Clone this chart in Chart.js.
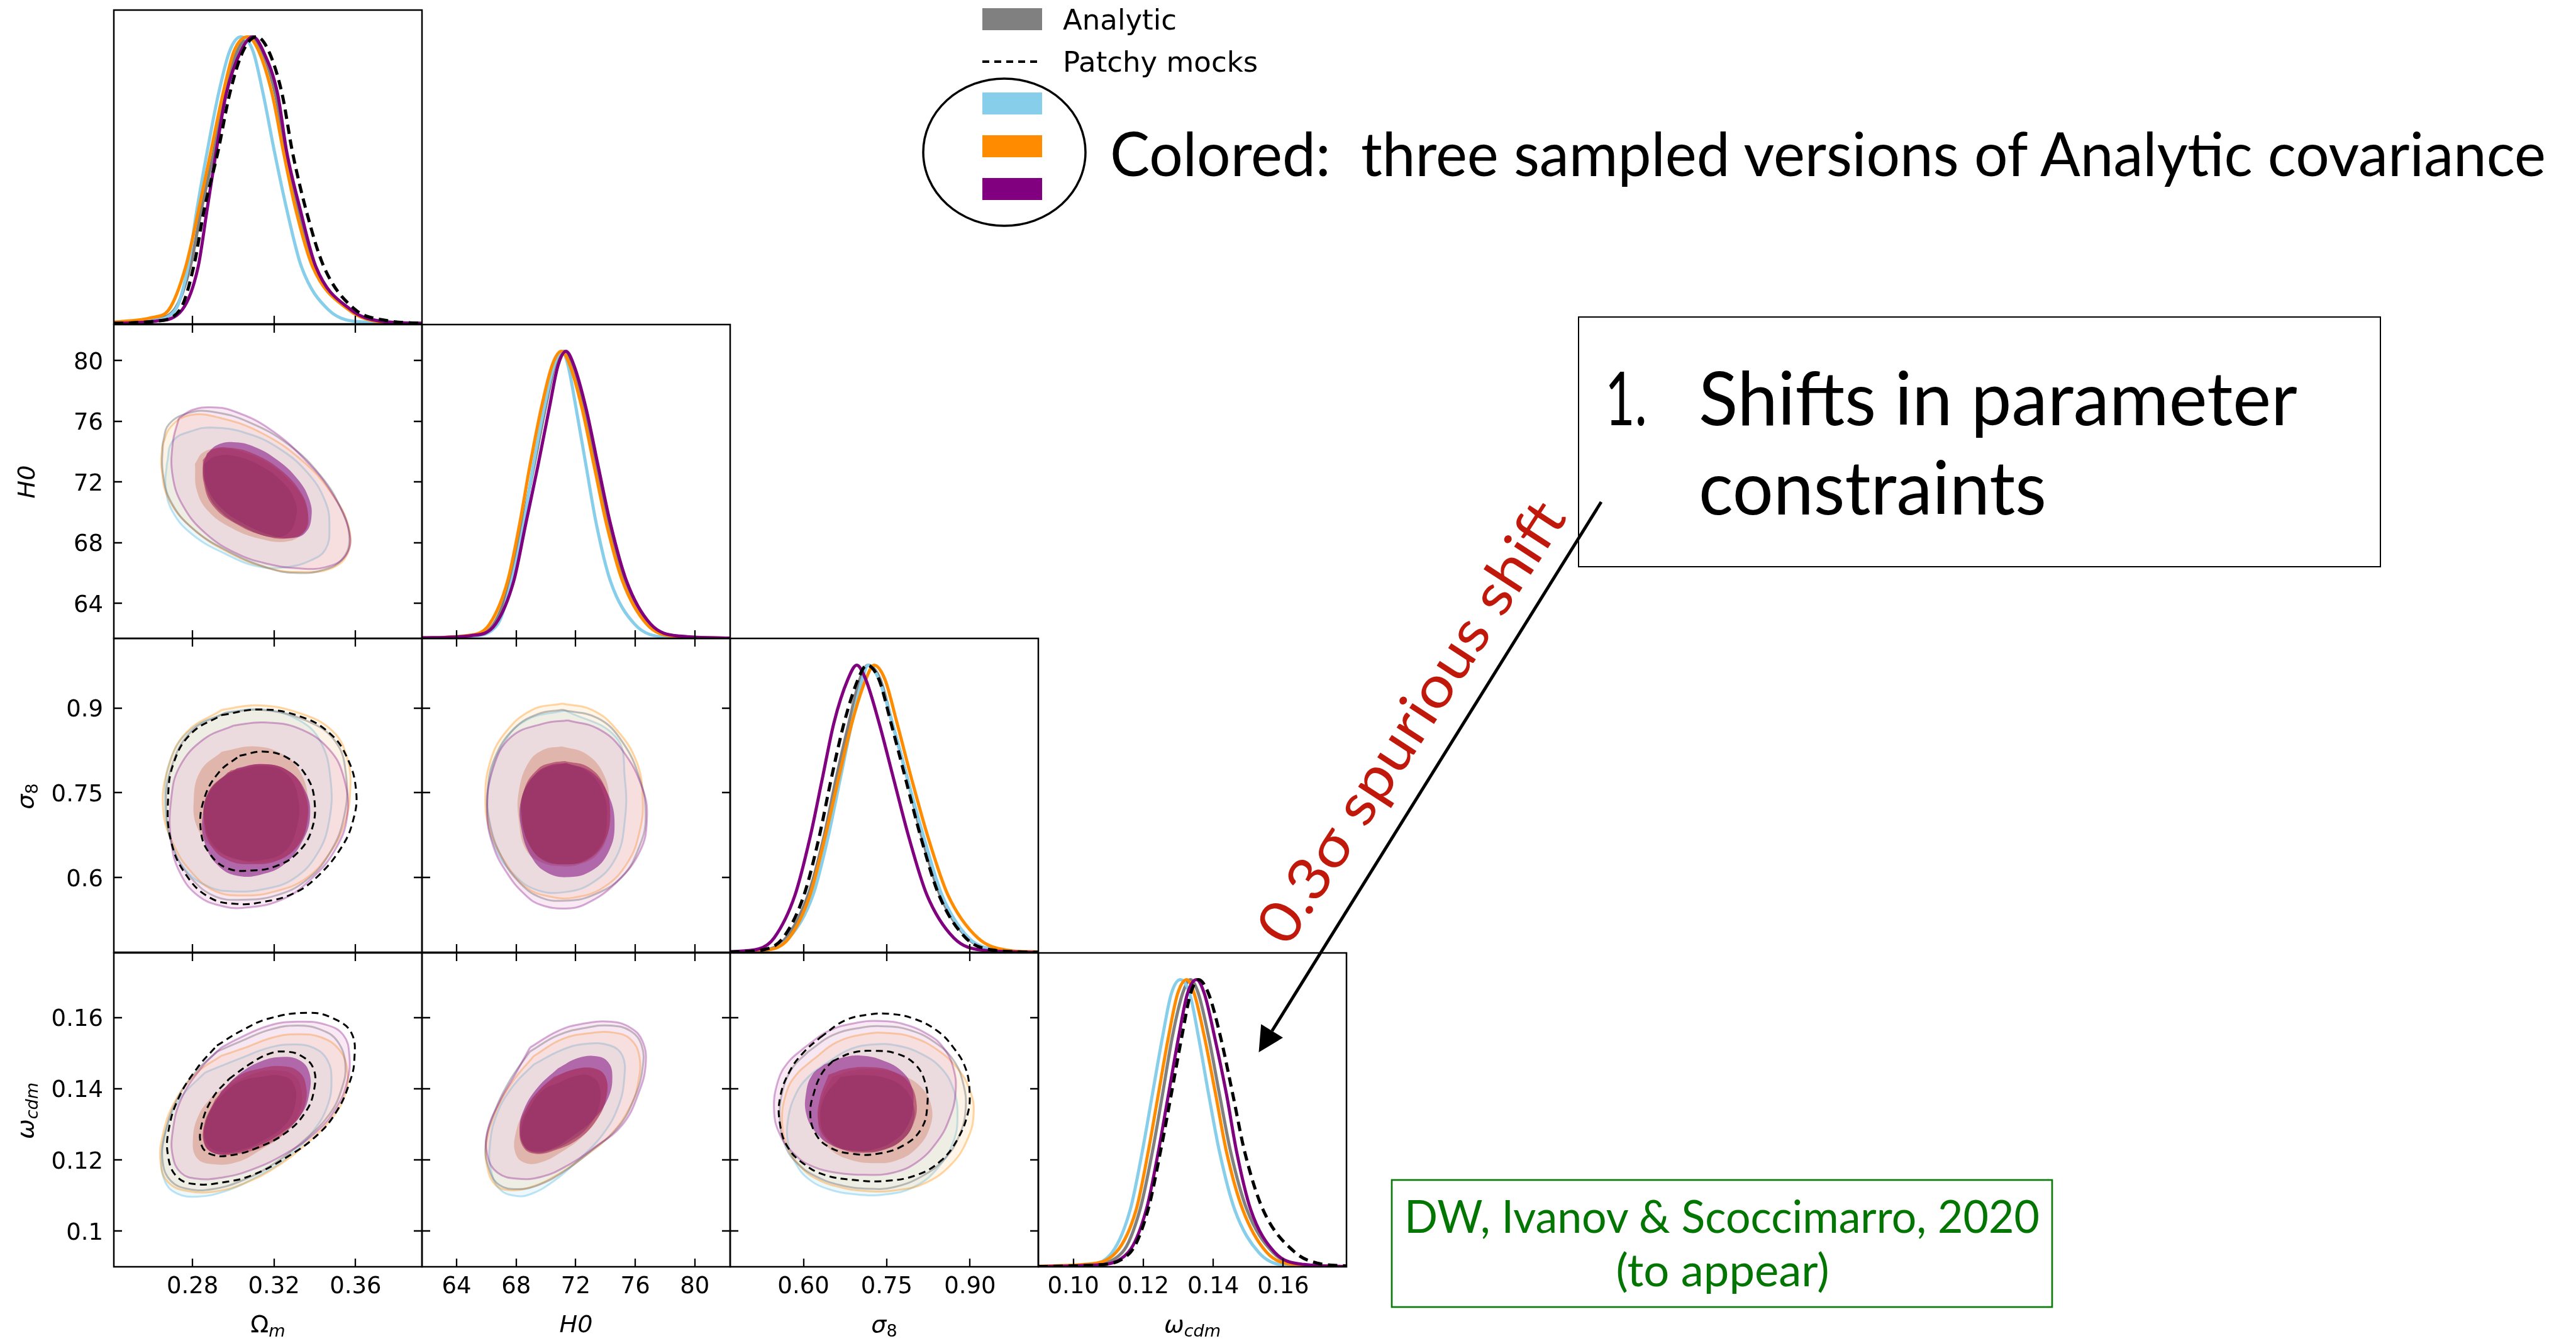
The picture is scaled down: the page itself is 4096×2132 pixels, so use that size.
<!DOCTYPE html>
<html>
<head>
<meta charset="utf-8">
<title>Analytic vs Patchy covariance triangle plot</title>
<script src="https://cdn.jsdelivr.net/npm/chart.js@4.4.1/dist/chart.umd.min.js"></script>
<style>
  html, body { margin: 0; padding: 0; background: #fff; }
  body { position: relative; width: 4096px; height: 2132px; overflow: hidden; }
  canvas { position: absolute; }
  #notes { position: absolute; left: 0; top: 0; z-index: 5; }
</style>
</head>
<body>
<svg id="notes" width="4096" height="2132" xmlns="http://www.w3.org/2000/svg">
  <!-- legend -->
  <g font-family="DejaVu Sans" font-size="45" fill="#000">
    <rect x="1562" y="13" width="95" height="35" fill="#808080"/>
    <text x="1690" y="47">Analytic</text>
    <line x1="1562" y1="98" x2="1657" y2="98" stroke="#000" stroke-width="4" stroke-dasharray="11 8"/>
    <text x="1690" y="114">Patchy mocks</text>
    <rect x="1562" y="147" width="95" height="35" fill="#87ceeb"/>
    <rect x="1562" y="215" width="95" height="35" fill="#ff8c00"/>
    <rect x="1562" y="283" width="95" height="35" fill="#800080"/>
  </g>
  <ellipse cx="1597" cy="242" rx="129" ry="117" fill="none" stroke="#000" stroke-width="3.5"/>
  <text x="1765" y="280" font-family="Lato, 'Open Sans', sans-serif" font-size="97" xml:space="preserve" style="white-space:pre"
        textLength="2283" lengthAdjust="spacingAndGlyphs">Colored:  three sampled versions of Analytic covariance</text>

  <!-- box 1 -->
  <rect x="2510" y="504" width="1275" height="397" fill="none" stroke="#000" stroke-width="2"/>
  <g font-family="Lato, 'Open Sans', sans-serif" font-size="119" fill="#000">
    <text x="2552" y="676" textLength="67" lengthAdjust="spacingAndGlyphs">1.</text>
    <text x="2701" y="676" textLength="952" lengthAdjust="spacingAndGlyphs">Shifts in parameter</text>
    <text x="2701" y="818" textLength="553" lengthAdjust="spacingAndGlyphs">constraints</text>
  </g>

  <!-- arrow and shift note -->
  <line x1="2546" y1="798" x2="2022.6" y2="1639" stroke="#000" stroke-width="5"/>
  <polygon points="2001.5,1673 2040,1649.8 2005.2,1628.2" fill="#000"/>
  <text transform="translate(2242,1147) rotate(-57)" y="34" text-anchor="middle" font-family="Lato, 'Open Sans', sans-serif"
        font-size="92" fill="#c0180a" textLength="817" lengthAdjust="spacingAndGlyphs">0.3σ spurious shift</text>

  <!-- reference box -->
  <rect x="2213" y="1876" width="1050" height="202" fill="none" stroke="#0a7a0a" stroke-width="2.7"/>
  <g font-family="Lato, 'Open Sans', sans-serif" font-size="72" fill="#037503">
    <text x="2233" y="1960" textLength="1010" lengthAdjust="spacingAndGlyphs">DW, Ivanov &amp; Scoccimarro, 2020</text>
    <text x="2739" y="2045" text-anchor="middle" textLength="339" lengthAdjust="spacingAndGlyphs">(to appear)</text>
  </g>

  <!-- axis labels -->
  <g font-family="DejaVu Sans" font-size="38" fill="#000" text-anchor="middle">
    <text x="426" y="2118">Ω<tspan font-style="italic" font-size="27" dy="7">m</tspan></text>
    <text x="916" y="2118" font-style="italic">H0</text>
    <text x="1406" y="2118"><tspan font-style="italic">σ</tspan><tspan font-size="27" dy="7">8</tspan></text>
    <text x="1896" y="2118"><tspan font-style="italic">ω</tspan><tspan font-style="italic" font-size="27" dy="7">cdm</tspan></text>
    <text transform="translate(55,766) rotate(-90)" font-style="italic">H0</text>
    <text transform="translate(53,1266) rotate(-90)"><tspan font-style="italic">σ</tspan><tspan font-size="27" dy="7">8</tspan></text>
    <text transform="translate(53,1766) rotate(-90)"><tspan font-style="italic">ω</tspan><tspan font-style="italic" font-size="27" dy="7">cdm</tspan></text>
  </g>
</svg>

<script>
// ---- axes ----
const omRange = [0.2414, 0.3926];
const h0Range = [61.68, 82.37];
const s8Range = [0.468, 1.023];
const wcRange = [0.0900, 0.1781];
const peakRange = [0, 1.093];

const omTicks = [0.28, 0.32, 0.36];
const omTickText = ['0.28', '0.32', '0.36'];
const h0Ticks = [64, 68, 72, 76, 80];
const h0TickText = ['64', '68', '72', '76', '80'];
const s8Ticks = [0.60, 0.75, 0.90];
const s8TickText = ['0.60', '0.75', '0.90'];
const s8TickTextY = ['0.6', '0.75', '0.9'];
const wcTicks = [0.10, 0.12, 0.14, 0.16];
const wcTickText = ['0.10', '0.12', '0.14', '0.16'];
const wcTickTextY = ['0.1', '0.12', '0.14', '0.16'];

// ---- 1D marginals [value, normalised density] ----
const omGray = [[0.2414,0.004],[0.2600,0.015],[0.2712,0.05],[0.2789,0.2],[0.2844,0.4],[0.2905,0.6],[0.2960,0.8],[0.3020,0.95],[0.3086,1],[0.3141,0.95],[0.3207,0.8],[0.3257,0.6],[0.3317,0.4],[0.3400,0.2],[0.3570,0.05],[0.3700,0.012],[0.3926,0.002]];
const omBlue = [[0.2414,0.003],[0.2600,0.012],[0.2717,0.05],[0.2778,0.2],[0.2822,0.4],[0.2872,0.6],[0.2927,0.8],[0.2982,0.95],[0.3037,1],[0.3097,0.95],[0.3147,0.8],[0.3202,0.6],[0.3262,0.4],[0.3334,0.2],[0.3466,0.05],[0.3653,0.006],[0.3926,0.001]];
const omOrange = [[0.2414,0.006],[0.2600,0.022],[0.2684,0.05],[0.2767,0.2],[0.2831,0.4],[0.2890,0.6],[0.2949,0.8],[0.3004,0.95],[0.3070,1],[0.3125,0.95],[0.3191,0.8],[0.3246,0.6],[0.3306,0.4],[0.3389,0.2],[0.3565,0.05],[0.3708,0.008],[0.3926,0.001]];
const omPurple = [[0.2414,0.002],[0.2620,0.01],[0.2750,0.05],[0.2828,0.2],[0.2872,0.4],[0.2916,0.6],[0.2965,0.8],[0.3037,0.95],[0.3097,1],[0.3147,0.95],[0.3218,0.8],[0.3262,0.6],[0.3328,0.4],[0.3405,0.2],[0.3576,0.05],[0.3720,0.01],[0.3926,0.002]];
const omPatchy = [[0.2414,0.002],[0.2620,0.01],[0.2739,0.05],[0.2806,0.2],[0.2858,0.4],[0.2925,0.6],[0.2982,0.8],[0.3048,0.95],[0.3114,1],[0.3174,0.95],[0.3240,0.8],[0.3290,0.6],[0.3356,0.4],[0.3444,0.2],[0.3598,0.05],[0.3750,0.012],[0.3926,0.002]];

const h0Gray = [[61.68,0.002],[65.0,0.01],[66.5,0.05],[67.62,0.2],[68.43,0.4],[69.19,0.6],[69.95,0.8],[70.60,0.95],[71.22,1],[71.76,0.95],[72.57,0.8],[73.38,0.6],[74.19,0.4],[75.27,0.2],[76.89,0.05],[78.8,0.008],[82.37,0.001]];
const h0Blue = [[61.68,0.001],[65.0,0.008],[66.76,0.05],[67.70,0.2],[68.51,0.4],[69.14,0.6],[69.87,0.8],[70.54,0.95],[71.08,1],[71.49,0.95],[72.03,0.8],[72.70,0.6],[73.38,0.4],[74.33,0.2],[75.95,0.05],[78.0,0.005],[82.37,0]];
const h0Orange = [[61.68,0.002],[65.0,0.012],[66.22,0.05],[67.43,0.2],[68.24,0.4],[68.92,0.6],[69.68,0.8],[70.41,0.95],[71.03,1],[71.62,0.95],[72.43,0.8],[73.24,0.6],[74.06,0.4],[75.14,0.2],[76.76,0.05],[78.5,0.008],[82.37,0.001]];
const h0Purple = [[61.68,0.002],[65.0,0.01],[66.62,0.05],[67.84,0.2],[68.65,0.4],[69.46,0.6],[70.22,0.8],[70.81,0.95],[71.35,1],[71.89,0.95],[72.70,0.8],[73.51,0.6],[74.33,0.4],[75.41,0.2],[77.03,0.05],[79.0,0.008],[82.37,0.001]];

const s8Gray = [[0.468,0.001],[0.53,0.008],[0.5687,0.05],[0.6086,0.2],[0.6367,0.4],[0.6583,0.6],[0.6820,0.8],[0.7014,0.95],[0.7165,1],[0.7381,0.95],[0.7597,0.8],[0.7878,0.6],[0.8137,0.4],[0.8460,0.2],[0.8957,0.05],[0.945,0.008],[1.023,0]];
const s8Blue = [[0.468,0.001],[0.535,0.008],[0.5741,0.05],[0.6173,0.2],[0.6442,0.4],[0.6658,0.6],[0.6874,0.8],[0.7058,0.95],[0.7165,1],[0.7360,0.95],[0.7597,0.8],[0.7878,0.6],[0.8169,0.4],[0.8493,0.2],[0.8978,0.05],[0.95,0.008],[1.023,0]];
const s8Orange = [[0.468,0.001],[0.535,0.008],[0.5741,0.05],[0.6119,0.2],[0.6388,0.4],[0.6626,0.6],[0.6874,0.8],[0.7122,0.95],[0.7273,1],[0.7468,0.95],[0.7683,0.8],[0.7953,0.6],[0.8245,0.4],[0.8601,0.2],[0.9140,0.05],[0.965,0.008],[1.023,0.001]];
const s8Purple = [[0.468,0.002],[0.52,0.012],[0.5471,0.05],[0.5849,0.2],[0.6119,0.4],[0.6335,0.6],[0.6550,0.8],[0.6799,0.95],[0.6960,1],[0.7122,0.95],[0.7360,0.8],[0.7629,0.6],[0.7899,0.4],[0.8223,0.2],[0.8709,0.05],[0.92,0.008],[1.023,0]];
const s8Patchy = [[0.468,0.001],[0.53,0.01],[0.5633,0.05],[0.6011,0.2],[0.6281,0.4],[0.6496,0.6],[0.6734,0.8],[0.6982,0.95],[0.7144,1],[0.7360,0.95],[0.7575,0.8],[0.7845,0.6],[0.8115,0.4],[0.8439,0.2],[0.8924,0.05],[0.94,0.008],[1.023,0]];

const wcGray = [[0.090,0.001],[0.104,0.006],[0.1140,0.05],[0.1191,0.2],[0.1226,0.4],[0.1255,0.6],[0.1283,0.8],[0.1312,0.95],[0.1335,1],[0.1358,0.95],[0.1387,0.8],[0.1418,0.6],[0.1450,0.4],[0.1496,0.2],[0.1571,0.05],[0.165,0.008],[0.178,0.001]];
const wcBlue = [[0.090,0.001],[0.103,0.006],[0.1111,0.05],[0.1163,0.2],[0.1197,0.4],[0.1226,0.6],[0.1255,0.8],[0.1280,0.95],[0.1306,1],[0.1333,0.95],[0.1358,0.8],[0.1387,0.6],[0.1418,0.4],[0.1461,0.2],[0.1530,0.05],[0.160,0.006],[0.178,0]];
const wcOrange = [[0.090,0.002],[0.103,0.008],[0.1122,0.05],[0.1180,0.2],[0.1214,0.4],[0.1243,0.6],[0.1272,0.8],[0.1298,0.95],[0.1324,1],[0.1346,0.95],[0.1375,0.8],[0.1407,0.6],[0.1438,0.4],[0.1484,0.2],[0.1553,0.05],[0.163,0.008],[0.178,0.001]];
const wcPurple = [[0.090,0.001],[0.106,0.006],[0.1157,0.05],[0.1209,0.2],[0.1243,0.4],[0.1272,0.6],[0.1301,0.8],[0.1326,0.95],[0.1352,1],[0.1375,0.95],[0.1404,0.8],[0.1438,0.6],[0.1467,0.4],[0.1507,0.2],[0.1576,0.05],[0.166,0.008],[0.178,0.001]];
const wcPatchy = [[0.090,0.001],[0.106,0.006],[0.1163,0.05],[0.1214,0.2],[0.1249,0.4],[0.1280,0.6],[0.1310,0.8],[0.1335,0.95],[0.1358,1],[0.1387,0.95],[0.1421,0.8],[0.1456,0.6],[0.1490,0.4],[0.1542,0.2],[0.1634,0.05],[0.170,0.012],[0.178,0.003]];

// ---- 2D contours (68% / 95%), closed outlines in data units ----
// Omega_m vs H0
const omH0Blue95 = [[0.2674,73.18],[0.2703,74.69],[0.2802,75.38],[0.2900,75.58],[0.3058,75.24],[0.3216,74.28],[0.3363,72.63],[0.3452,70.70],[0.3472,69.05],[0.3452,67.54],[0.3373,66.78],[0.3255,66.37],[0.3117,66.44],[0.2960,67.26],[0.2802,68.50],[0.2703,70.01],[0.2668,71.66]];
const omH0Orange95 = [[0.2650,74.28],[0.2694,75.65],[0.2792,76.41],[0.2940,76.20],[0.3137,75.24],[0.3334,73.45],[0.3482,71.25],[0.3566,69.05],[0.3560,67.26],[0.3481,66.30],[0.3334,66.05],[0.3176,66.30],[0.2979,67.33],[0.2802,68.91],[0.2684,70.84],[0.2648,72.90]];
const omH0Gray95 = [[0.2654,74.55],[0.2684,75.79],[0.2782,76.55],[0.2900,76.62],[0.3078,75.93],[0.3275,74.42],[0.3432,72.35],[0.3531,70.15],[0.3570,68.23],[0.3531,66.85],[0.3432,66.16],[0.3304,66.00],[0.3176,66.30],[0.2979,67.40],[0.2802,68.91],[0.2694,70.70],[0.2654,72.62]];
const omH0Purple95 = [[0.2733,76.20],[0.2802,76.75],[0.2891,76.92],[0.2999,76.68],[0.3176,75.51],[0.3353,73.45],[0.3491,71.11],[0.3570,68.64],[0.3551,67.13],[0.3452,66.37],[0.3314,66.30],[0.3176,66.57],[0.3019,67.26],[0.2861,68.64],[0.2753,70.43],[0.2703,72.35],[0.2703,74.55]];
const omH0Orange68 = [[0.2812,73.18],[0.2851,73.93],[0.2930,74.21],[0.3038,74.00],[0.3176,73.18],[0.3285,71.94],[0.3354,70.56],[0.3363,69.33],[0.3334,68.50],[0.3255,68.06],[0.3137,68.23],[0.2999,68.91],[0.2881,70.01],[0.2822,71.39]];
const omH0Purple68 = [[0.2871,73.87],[0.2920,74.42],[0.2999,74.62],[0.3097,74.35],[0.3216,73.45],[0.3314,72.21],[0.3373,70.84],[0.3383,69.60],[0.3353,68.64],[0.3285,68.29],[0.3196,68.43],[0.3058,69.19],[0.2940,70.29],[0.2871,71.66],[0.2851,72.90]];
const omH0Gray68 = [[0.2851,73.45],[0.2900,74.14],[0.2979,74.25],[0.3097,73.87],[0.3235,72.76],[0.3334,71.25],[0.3367,69.88],[0.3353,68.78],[0.3275,68.29],[0.3157,68.43],[0.3019,69.19],[0.2900,70.43],[0.2855,71.94]];
const omH0Blue68 = [[0.2857,73.18],[0.2910,73.66],[0.2999,73.73],[0.3117,73.18],[0.3235,72.08],[0.3304,70.70],[0.3304,69.46],[0.3265,68.57],[0.3186,68.36],[0.3058,68.98],[0.2940,70.01],[0.2871,71.39]];

// Omega_m vs sigma_8
const omS8Blue95 = [[0.2973,0.8930],[0.3149,0.8974],[0.3324,0.8782],[0.3427,0.8413],[0.3477,0.7749],[0.3471,0.7011],[0.3412,0.6421],[0.3295,0.5978],[0.3149,0.5794],[0.3002,0.5757],[0.2885,0.5831],[0.2768,0.6126],[0.2695,0.6642],[0.2665,0.7380],[0.2695,0.8118],[0.2797,0.8635]];
const omS8Orange95 = [[0.2944,0.8967],[0.3120,0.9048],[0.3324,0.8911],[0.3486,0.8598],[0.3559,0.8118],[0.3574,0.7528],[0.3544,0.6937],[0.3471,0.6421],[0.3354,0.5978],[0.3207,0.5757],[0.3061,0.5683],[0.2914,0.5757],[0.2797,0.6089],[0.2709,0.6568],[0.2656,0.7196],[0.2680,0.7934],[0.2768,0.8561]];
const omS8Gray95 = [[0.2958,0.8911],[0.3134,0.8967],[0.3354,0.8782],[0.3500,0.8413],[0.3553,0.7823],[0.3544,0.7085],[0.3471,0.6421],[0.3354,0.5941],[0.3207,0.5683],[0.3046,0.5609],[0.2914,0.5664],[0.2797,0.5978],[0.2709,0.6494],[0.2671,0.7196],[0.2695,0.7934],[0.2797,0.8598]];
const omS8Purple95 = [[0.3002,0.8690],[0.3149,0.8745],[0.3324,0.8635],[0.3471,0.8266],[0.3544,0.7749],[0.3559,0.7085],[0.3500,0.6494],[0.3383,0.5978],[0.3237,0.5609],[0.3061,0.5469],[0.2944,0.5498],[0.2826,0.5683],[0.2738,0.6089],[0.2695,0.6642],[0.2695,0.7380],[0.2738,0.7971],[0.2856,0.8450]];
const omS8Orange68 = [[0.2944,0.8229],[0.3105,0.8321],[0.3237,0.8192],[0.3324,0.7897],[0.3368,0.7380],[0.3354,0.6827],[0.3280,0.6421],[0.3163,0.6273],[0.3031,0.6310],[0.2914,0.6494],[0.2826,0.6863],[0.2806,0.7380],[0.2841,0.7897]];
const omS8Purple68 = [[0.3017,0.7934],[0.3134,0.8007],[0.3266,0.7897],[0.3354,0.7528],[0.3377,0.7085],[0.3339,0.6642],[0.3251,0.6236],[0.3134,0.6052],[0.3017,0.6034],[0.2929,0.6200],[0.2864,0.6568],[0.2850,0.7085],[0.2900,0.7602]];
const omS8Gray68 = [[0.2988,0.7897],[0.3149,0.8007],[0.3281,0.7860],[0.3354,0.7454],[0.3363,0.7011],[0.3324,0.6605],[0.3222,0.6310],[0.3090,0.6237],[0.2973,0.6310],[0.2891,0.6568],[0.2856,0.7011],[0.2880,0.7528]];
const omS8Blue68 = [[0.2973,0.7860],[0.3149,0.7971],[0.3266,0.7823],[0.3319,0.7380],[0.3310,0.6863],[0.3251,0.6458],[0.3134,0.6310],[0.3017,0.6328],[0.2914,0.6531],[0.2862,0.6937],[0.2870,0.7454]];
const omS8Patchy95 = [[0.2944,0.8875],[0.3134,0.8974],[0.3324,0.8856],[0.3471,0.8561],[0.3559,0.8118],[0.3603,0.7528],[0.3588,0.7011],[0.3530,0.6531],[0.3412,0.6015],[0.3295,0.5720],[0.3149,0.5572],[0.3017,0.5535],[0.2885,0.5646],[0.2768,0.6052],[0.2695,0.6642],[0.2680,0.7380],[0.2709,0.8044],[0.2797,0.8561]];
const omS8Patchy68 = [[0.3031,0.8155],[0.3149,0.8229],[0.3266,0.8118],[0.3354,0.7823],[0.3398,0.7380],[0.3383,0.6827],[0.3310,0.6421],[0.3207,0.6200],[0.3090,0.6126],[0.2973,0.6163],[0.2885,0.6421],[0.2841,0.6827],[0.2856,0.7380],[0.2929,0.7860]];

// H0 vs sigma_8
const h0S8Blue95 = [[71.28,0.8959],[74.69,0.8487],[75.30,0.7749],[75.30,0.7011],[74.69,0.6347],[73.09,0.5904],[71.08,0.5738],[69.27,0.5793],[67.86,0.6052],[66.65,0.6494],[66.05,0.7122],[66.25,0.7749],[67.06,0.8340],[68.66,0.8782]];
const h0S8Orange95 = [[71.08,0.9078],[73.09,0.8967],[74.69,0.8635],[76.10,0.8044],[76.50,0.7380],[76.30,0.6827],[75.50,0.6273],[73.89,0.5830],[71.88,0.5646],[70.27,0.5664],[68.66,0.5830],[67.26,0.6273],[66.25,0.6827],[65.93,0.7380],[66.25,0.8044],[67.26,0.8561],[69.07,0.8967]];
const h0S8Gray95 = [[71.08,0.8967],[73.49,0.8819],[75.10,0.8413],[76.30,0.7749],[76.70,0.7085],[76.30,0.6568],[75.10,0.6015],[73.09,0.5683],[71.28,0.5591],[69.67,0.5646],[68.26,0.5904],[67.06,0.6347],[66.25,0.6937],[66.09,0.7528],[66.57,0.8118],[67.86,0.8635],[69.47,0.8893]];
const h0S8Purple95 = [[71.48,0.8782],[73.49,0.8635],[75.10,0.8266],[76.50,0.7565],[76.78,0.7011],[76.30,0.6458],[74.69,0.5904],[72.68,0.5535],[71.28,0.5454],[69.67,0.5517],[68.66,0.5683],[67.46,0.6052],[66.45,0.6568],[66.05,0.7196],[66.45,0.7934],[67.66,0.8487],[69.87,0.8727]];
const h0S8Orange68 = [[71.08,0.8321],[72.68,0.8192],[73.89,0.7823],[74.29,0.7306],[74.21,0.6827],[73.49,0.6421],[72.28,0.6237],[71.08,0.6200],[69.67,0.6273],[68.66,0.6494],[68.18,0.7011],[68.18,0.7528],[68.86,0.8044],[69.87,0.8266]];
const h0S8Purple68 = [[71.40,0.8026],[73.09,0.7860],[74.21,0.7454],[74.61,0.6937],[74.21,0.6458],[73.09,0.6126],[71.48,0.6008],[70.07,0.6089],[69.07,0.6347],[68.38,0.6827],[68.34,0.7380],[69.27,0.7823],[70.27,0.7989]];
const h0S8Gray68 = [[71.28,0.8060],[72.88,0.7950],[73.97,0.7600],[74.30,0.7100],[73.95,0.6650],[72.88,0.6330],[71.48,0.6237],[70.07,0.6292],[68.98,0.6531],[68.40,0.7048],[68.55,0.7565],[69.50,0.7930],[70.40,0.8030]];
const h0S8Blue68 = [[71.28,0.8026],[72.68,0.7897],[73.81,0.7528],[74.09,0.7011],[73.69,0.6568],[72.48,0.6292],[71.16,0.6237],[69.79,0.6310],[68.86,0.6605],[68.34,0.7085],[68.58,0.7565],[69.67,0.7897]];

// Omega_m vs omega_cdm
const omWcBlue95 = [[0.2861,0.1445],[0.3038,0.1486],[0.3176,0.1515],[0.3294,0.1524],[0.3393,0.1515],[0.3462,0.1480],[0.3482,0.1422],[0.3462,0.1351],[0.3393,0.1281],[0.3275,0.1211],[0.3117,0.1153],[0.2960,0.1112],[0.2822,0.1097],[0.2723,0.1106],[0.2664,0.1141],[0.2648,0.1211],[0.2674,0.1293],[0.2743,0.1375]];
const omWcOrange95 = [[0.2940,0.1492],[0.3058,0.1515],[0.3196,0.1544],[0.3314,0.1553],[0.3432,0.1544],[0.3521,0.1509],[0.3560,0.1451],[0.3551,0.1387],[0.3491,0.1322],[0.3373,0.1252],[0.3216,0.1182],[0.3058,0.1135],[0.2920,0.1112],[0.2782,0.1112],[0.2684,0.1135],[0.2644,0.1188],[0.2654,0.1270],[0.2713,0.1363],[0.2822,0.1445]];
const omWcGray95 = [[0.2920,0.1504],[0.3038,0.1533],[0.3176,0.1565],[0.3314,0.1577],[0.3432,0.1565],[0.3511,0.1533],[0.3550,0.1468],[0.3531,0.1398],[0.3472,0.1328],[0.3354,0.1258],[0.3196,0.1188],[0.3038,0.1141],[0.2900,0.1118],[0.2782,0.1118],[0.2694,0.1141],[0.2654,0.1194],[0.2664,0.1270],[0.2723,0.1369],[0.2822,0.1451]];
const omWcPurple95 = [[0.2940,0.1515],[0.3019,0.1539],[0.3176,0.1577],[0.3314,0.1588],[0.3452,0.1580],[0.3541,0.1550],[0.3570,0.1492],[0.3560,0.1422],[0.3511,0.1351],[0.3413,0.1281],[0.3255,0.1217],[0.3078,0.1170],[0.2940,0.1150],[0.2822,0.1147],[0.2743,0.1164],[0.2703,0.1211],[0.2703,0.1281],[0.2743,0.1369],[0.2841,0.1457]];
const omWcOrange68 = [[0.2900,0.1381],[0.2999,0.1416],[0.3117,0.1445],[0.3216,0.1451],[0.3294,0.1439],[0.3334,0.1398],[0.3324,0.1334],[0.3255,0.1275],[0.3137,0.1229],[0.3019,0.1194],[0.2900,0.1188],[0.2822,0.1205],[0.2802,0.1258],[0.2832,0.1328]];
const omWcPurple68 = [[0.2940,0.1392],[0.3038,0.1445],[0.3137,0.1477],[0.3235,0.1489],[0.3324,0.1480],[0.3373,0.1445],[0.3373,0.1386],[0.3334,0.1328],[0.3235,0.1275],[0.3097,0.1234],[0.2979,0.1217],[0.2900,0.1220],[0.2857,0.1252],[0.2871,0.1316]];
const omWcGray68 = [[0.2910,0.1369],[0.3019,0.1433],[0.3137,0.1457],[0.3235,0.1463],[0.3314,0.1451],[0.3354,0.1416],[0.3350,0.1351],[0.3285,0.1293],[0.3157,0.1240],[0.3019,0.1217],[0.2920,0.1217],[0.2861,0.1240],[0.2857,0.1299]];
const omWcBlue68 = [[0.2910,0.1363],[0.3019,0.1416],[0.3137,0.1433],[0.3235,0.1436],[0.3294,0.1416],[0.3304,0.1357],[0.3255,0.1299],[0.3137,0.1252],[0.3019,0.1226],[0.2930,0.1223],[0.2871,0.1246],[0.2861,0.1299]];
const omWcPatchy95 = [[0.2920,0.1521],[0.3038,0.1562],[0.3176,0.1597],[0.3373,0.1613],[0.3491,0.1597],[0.3580,0.1556],[0.3594,0.1480],[0.3570,0.1416],[0.3511,0.1340],[0.3413,0.1270],[0.3255,0.1205],[0.3097,0.1158],[0.2960,0.1138],[0.2812,0.1132],[0.2723,0.1153],[0.2680,0.1211],[0.2684,0.1287],[0.2733,0.1375],[0.2822,0.1457]];
const omWcPatchy68 = [[0.2979,0.1427],[0.3078,0.1468],[0.3176,0.1498],[0.3255,0.1504],[0.3334,0.1492],[0.3393,0.1457],[0.3397,0.1398],[0.3354,0.1334],[0.3255,0.1275],[0.3117,0.1234],[0.2999,0.1214],[0.2900,0.1214],[0.2845,0.1240],[0.2845,0.1299],[0.2900,0.1375]];

// H0 vs omega_cdm
const h0WcBlue95 = [[69.19,0.1468],[71.08,0.1509],[72.70,0.1526],[74.33,0.1521],[75.14,0.1492],[75.27,0.1433],[74.87,0.1351],[73.79,0.1270],[72.16,0.1199],[70.54,0.1141],[68.92,0.1103],[67.84,0.1100],[66.89,0.1118],[66.35,0.1164],[66.22,0.1234],[66.70,0.1328],[67.84,0.1410]];
const h0WcOrange95 = [[69.19,0.1492],[71.08,0.1539],[72.97,0.1556],[74.60,0.1557],[75.68,0.1539],[76.27,0.1492],[76.22,0.1422],[75.68,0.1351],[74.33,0.1270],[72.43,0.1205],[70.54,0.1153],[68.92,0.1123],[67.57,0.1115],[66.62,0.1129],[66.08,0.1176],[66.00,0.1246],[66.62,0.1334],[67.70,0.1416]];
const h0WcGray95 = [[68.92,0.1504],[70.81,0.1550],[72.70,0.1571],[74.33,0.1577],[75.68,0.1562],[76.43,0.1521],[76.49,0.1457],[75.95,0.1375],[74.87,0.1293],[72.97,0.1223],[71.08,0.1164],[69.46,0.1129],[68.11,0.1118],[66.89,0.1129],[66.22,0.1170],[65.95,0.1240],[66.49,0.1328],[67.57,0.1422]];
const h0WcPurple95 = [[68.92,0.1515],[70.81,0.1562],[72.43,0.1582],[74.33,0.1588],[75.68,0.1571],[76.49,0.1533],[76.70,0.1468],[76.22,0.1387],[75.14,0.1299],[73.24,0.1234],[71.35,0.1182],[69.73,0.1153],[68.11,0.1147],[66.76,0.1164],[66.08,0.1211],[66.08,0.1281],[66.89,0.1363],[67.84,0.1433]];
const h0WcOrange68 = [[70.27,0.1422],[71.62,0.1451],[72.97,0.1457],[73.92,0.1439],[74.06,0.1387],[73.65,0.1328],[72.57,0.1270],[71.08,0.1223],[69.73,0.1194],[68.65,0.1191],[67.97,0.1217],[67.97,0.1275],[68.65,0.1346],[69.46,0.1392]];
const h0WcPurple68 = [[70.81,0.1457],[72.16,0.1486],[73.38,0.1491],[74.19,0.1474],[74.46,0.1433],[74.19,0.1375],[73.24,0.1316],[71.89,0.1270],[70.54,0.1234],[69.46,0.1223],[68.65,0.1234],[68.24,0.1281],[68.51,0.1340],[69.46,0.1404]];
const h0WcGray68 = [[70.54,0.1433],[71.89,0.1454],[73.24,0.1457],[74.00,0.1433],[74.06,0.1375],[73.38,0.1311],[72.16,0.1258],[70.54,0.1226],[69.32,0.1217],[68.51,0.1234],[68.24,0.1287],[68.78,0.1351],[69.60,0.1398]];
const h0WcBlue68 = [[70.81,0.1416],[72.03,0.1436],[72.97,0.1436],[73.57,0.1410],[73.57,0.1351],[72.84,0.1293],[71.62,0.1252],[70.27,0.1226],[69.32,0.1220],[68.51,0.1240],[68.38,0.1293],[69.05,0.1357],[69.87,0.1398]];

// sigma_8 vs omega_cdm
const s8WcBlue95 = [[0.6378,0.1468],[0.6814,0.1509],[0.7249,0.1524],[0.7685,0.1521],[0.8121,0.1498],[0.8484,0.1457],[0.8702,0.1398],[0.8775,0.1328],[0.8702,0.1252],[0.8412,0.1176],[0.7976,0.1123],[0.7467,0.1103],[0.6959,0.1103],[0.6450,0.1118],[0.6087,0.1147],[0.5869,0.1188],[0.5724,0.1246],[0.5724,0.1316],[0.5869,0.1387],[0.6087,0.1433]];
const s8WcOrange95 = [[0.6160,0.1480],[0.6596,0.1530],[0.7104,0.1553],[0.7540,0.1556],[0.7976,0.1544],[0.8412,0.1509],[0.8775,0.1457],[0.9007,0.1392],[0.9065,0.1328],[0.8956,0.1258],[0.8666,0.1188],[0.8194,0.1135],[0.7685,0.1115],[0.7177,0.1112],[0.6668,0.1123],[0.6232,0.1147],[0.5942,0.1182],[0.5724,0.1234],[0.5615,0.1305],[0.5688,0.1387],[0.5869,0.1439]];
const s8WcGray95 = [[0.6087,0.1504],[0.6523,0.1550],[0.7031,0.1571],[0.7467,0.1575],[0.7903,0.1565],[0.8339,0.1533],[0.8702,0.1480],[0.8884,0.1410],[0.8920,0.1340],[0.8811,0.1270],[0.8557,0.1205],[0.8121,0.1153],[0.7613,0.1123],[0.7177,0.1119],[0.6668,0.1129],[0.6232,0.1153],[0.5906,0.1188],[0.5688,0.1234],[0.5579,0.1305],[0.5615,0.1387],[0.5797,0.1457]];
const s8WcPurple95 = [[0.6015,0.1515],[0.6450,0.1562],[0.6959,0.1585],[0.7395,0.1590],[0.7831,0.1580],[0.8266,0.1550],[0.8521,0.1515],[0.8702,0.1457],[0.8739,0.1387],[0.8630,0.1316],[0.8412,0.1252],[0.8048,0.1194],[0.7613,0.1164],[0.7104,0.1158],[0.6596,0.1164],[0.6160,0.1182],[0.5869,0.1211],[0.5579,0.1270],[0.5470,0.1340],[0.5542,0.1422],[0.5724,0.1474]];
const s8WcOrange68 = [[0.6523,0.1433],[0.6886,0.1451],[0.7322,0.1454],[0.7758,0.1439],[0.8121,0.1404],[0.8303,0.1351],[0.8281,0.1293],[0.8048,0.1234],[0.7685,0.1199],[0.7249,0.1191],[0.6814,0.1202],[0.6487,0.1229],[0.6305,0.1270],[0.6269,0.1328],[0.6363,0.1387]];
const s8WcPurple68 = [[0.6378,0.1468],[0.6741,0.1489],[0.7104,0.1492],[0.7467,0.1477],[0.7758,0.1451],[0.7940,0.1410],[0.7976,0.1351],[0.7867,0.1293],[0.7613,0.1252],[0.7249,0.1229],[0.6886,0.1226],[0.6523,0.1240],[0.6232,0.1275],[0.6051,0.1328],[0.6051,0.1392],[0.6160,0.1439]];
const s8WcGray68 = [[0.6450,0.1439],[0.6814,0.1457],[0.7249,0.1460],[0.7613,0.1448],[0.7903,0.1416],[0.8034,0.1363],[0.7990,0.1305],[0.7794,0.1258],[0.7467,0.1229],[0.7068,0.1220],[0.6705,0.1229],[0.6414,0.1258],[0.6269,0.1305],[0.6291,0.1369]];
const s8WcBlue68 = [[0.6668,0.1433],[0.7031,0.1438],[0.7467,0.1430],[0.7794,0.1404],[0.7976,0.1357],[0.7976,0.1305],[0.7794,0.1258],[0.7431,0.1229],[0.7031,0.1223],[0.6668,0.1234],[0.6414,0.1264],[0.6305,0.1311],[0.6378,0.1375]];
const s8WcPatchy95 = [[0.6305,0.1544],[0.6741,0.1591],[0.7177,0.1608],[0.7540,0.1610],[0.7976,0.1597],[0.8412,0.1562],[0.8702,0.1515],[0.8920,0.1457],[0.8993,0.1387],[0.8956,0.1328],[0.8775,0.1258],[0.8484,0.1199],[0.8048,0.1158],[0.7467,0.1141],[0.6886,0.1144],[0.6378,0.1158],[0.6015,0.1188],[0.5724,0.1234],[0.5579,0.1299],[0.5579,0.1375],[0.5760,0.1451],[0.6015,0.1504]];
const s8WcPatchy68 = [[0.6523,0.1477],[0.6886,0.1501],[0.7286,0.1506],[0.7685,0.1498],[0.8012,0.1468],[0.8194,0.1416],[0.8230,0.1351],[0.8121,0.1287],[0.7794,0.1240],[0.7322,0.1217],[0.6886,0.1217],[0.6487,0.1234],[0.6232,0.1270],[0.6123,0.1328],[0.6196,0.1392],[0.6341,0.1445]];

// ---- layout ----
const colX = [181, 671, 1161, 1651];
const rowY = [16, 516, 1015, 1515];
const PW = 490, PH = 499;

const params = [
  { range: omRange, ticks: omTicks, xText: omTickText, yText: null },
  { range: h0Range, ticks: h0Ticks, xText: h0TickText, yText: h0TickText },
  { range: s8Range, ticks: s8Ticks, xText: s8TickText, yText: s8TickTextY },
  { range: wcRange, ticks: wcTicks, xText: wcTickText, yText: wcTickTextY }
];

const marginals = [
  { gray: omGray, blue: omBlue, orange: omOrange, purple: omPurple, patchy: omPatchy },
  { gray: h0Gray, blue: h0Blue, orange: h0Orange, purple: h0Purple, patchy: null },
  { gray: s8Gray, blue: s8Blue, orange: s8Orange, purple: s8Purple, patchy: s8Patchy },
  { gray: wcGray, blue: wcBlue, orange: wcOrange, purple: wcPurple, patchy: wcPatchy }
];

const pairs = {
  '1,0': { b95: omH0Blue95, o95: omH0Orange95, g95: omH0Gray95, p95: omH0Purple95, o68: omH0Orange68, p68: omH0Purple68, g68: omH0Gray68, b68: omH0Blue68 },
  '2,0': { b95: omS8Blue95, o95: omS8Orange95, g95: omS8Gray95, p95: omS8Purple95, o68: omS8Orange68, p68: omS8Purple68, g68: omS8Gray68, b68: omS8Blue68, pat95: omS8Patchy95, pat68: omS8Patchy68 },
  '2,1': { b95: h0S8Blue95, o95: h0S8Orange95, g95: h0S8Gray95, p95: h0S8Purple95, o68: h0S8Orange68, p68: h0S8Purple68, g68: h0S8Gray68, b68: h0S8Blue68 },
  '3,0': { b95: omWcBlue95, o95: omWcOrange95, g95: omWcGray95, p95: omWcPurple95, o68: omWcOrange68, p68: omWcPurple68, g68: omWcGray68, b68: omWcBlue68, pat95: omWcPatchy95, pat68: omWcPatchy68 },
  '3,1': { b95: h0WcBlue95, o95: h0WcOrange95, g95: h0WcGray95, p95: h0WcPurple95, o68: h0WcOrange68, p68: h0WcPurple68, g68: h0WcGray68, b68: h0WcBlue68 },
  '3,2': { b95: s8WcBlue95, o95: s8WcOrange95, g95: s8WcGray95, p95: s8WcPurple95, o68: s8WcOrange68, p68: s8WcPurple68, g68: s8WcGray68, b68: s8WcBlue68, pat95: s8WcPatchy95, pat68: s8WcPatchy68 }
};

// drawn bottom -> top
const outerLayers = [
  ['b95', 'rgba(135,206,235,0.15)', 'rgba(135,206,235,0.55)'],
  ['o95', 'rgba(255,185,110,0.15)', 'rgba(255,140,0,0.35)'],
  ['g95', 'rgba(128,128,128,0.015)', 'rgba(128,128,128,0.5)'],
  ['p95', 'rgba(210,100,175,0.14)', 'rgba(128,0,128,0.32)']
];
const innerLayers = [
  ['o68', 'rgba(205,120,90,0.38)'],
  ['p68', 'rgba(128,10,128,0.55)'],
  ['g68', 'rgba(165,45,90,0.6)'],
  ['b68', 'rgba(150,50,100,0.6)']
];

// matplotlib-like frame, inward ticks and tick labels placed by the chart's scales
const frameTicks = {
  id: 'frameTicks',
  afterDatasetsDraw(chart, args, opts) {
    const { ctx, chartArea: a, scales: { x, y } } = chart;
    const tl = 13;
    ctx.save();
    ctx.strokeStyle = '#000';
    ctx.lineWidth = 2.3;
    ctx.beginPath();
    opts.xt.forEach(v => {
      const px = Math.round(x.getPixelForValue(v));
      ctx.moveTo(px, a.bottom); ctx.lineTo(px, a.bottom - tl);
      if (opts.full) { ctx.moveTo(px, a.top); ctx.lineTo(px, a.top + tl); }
    });
    if (opts.full) {
      opts.yt.forEach(v => {
        const py = Math.round(y.getPixelForValue(v));
        ctx.moveTo(a.left, py); ctx.lineTo(a.left + tl, py);
        ctx.moveTo(a.right, py); ctx.lineTo(a.right - tl, py);
      });
    }
    ctx.stroke();
    ctx.lineWidth = 2.5;
    ctx.strokeRect(a.left, a.top, a.right - a.left, a.bottom - a.top);

    ctx.fillStyle = '#000';
    ctx.font = '37px "DejaVu Sans"';
    ctx.textBaseline = 'alphabetic';
    if (opts.xText) {
      ctx.textAlign = 'center';
      opts.xt.forEach((v, k) => ctx.fillText(opts.xText[k], x.getPixelForValue(v), a.bottom + 42));
    }
    if (opts.yText) {
      ctx.textAlign = 'right';
      opts.yt.forEach((v, k) => ctx.fillText(opts.yText[k], a.left - 17, y.getPixelForValue(v) + 13.5));
    }
    ctx.restore();
  }
};

function toXY(pts) {
  return pts.map(p => ({ x: p[0], y: p[1] }));
}

function shape(pts, fillColor, lineColor, width, dash, order) {
  return {
    data: toXY(pts.concat([pts[0]])),
    fill: fillColor ? 'shape' : false,
    backgroundColor: fillColor || 'rgba(0,0,0,0)',
    borderColor: lineColor,
    borderWidth: width,
    borderDash: dash,
    borderJoinStyle: 'round',
    pointRadius: 0,
    tension: 0.42,
    order: order
  };
}

function curve(pts, color, dash, order) {
  return {
    data: toXY(pts),
    fill: false,
    borderColor: color,
    borderWidth: 5,
    borderDash: dash,
    pointRadius: 0,
    cubicInterpolationMode: 'monotone',
    order: order
  };
}

function makePanel(i, j, datasets) {
  const L = j === 0 ? 130 : 12, B = i === 3 ? 60 : 12, T = 12, R = 12;
  const xp = params[j];
  const yp = i === j ? null : params[i];
  const cv = document.createElement('canvas');
  cv.width = PW + L + R;
  cv.height = PH + T + B;
  cv.style.left = (colX[j] - L) + 'px';
  cv.style.top = (rowY[i] - T) + 'px';
  document.body.appendChild(cv);

  new Chart(cv, {
    type: 'line',
    data: { datasets },
    options: {
      responsive: false,
      animation: false,
      events: [],
      layout: { autoPadding: false, padding: { top: T, right: R, left: L, bottom: B } },
      plugins: {
        legend: { display: false },
        tooltip: { enabled: false },
        frameTicks: {
          xt: xp.ticks,
          yt: yp ? yp.ticks : [],
          full: !!yp,
          xText: i === 3 ? xp.xText : null,
          yText: j === 0 && yp ? yp.yText : null
        }
      },
      scales: {
        x: { type: 'linear', display: false, bounds: 'data', min: xp.range[0], max: xp.range[1] },
        y: {
          type: 'linear', display: false, bounds: 'data',
          min: yp ? yp.range[0] : peakRange[0],
          max: yp ? yp.range[1] : peakRange[1]
        }
      }
    },
    plugins: [frameTicks]
  });
}

// 1D panels on the diagonal
for (let k = 0; k < 4; k++) {
  const m = marginals[k];
  const ds = [
    curve(m.gray, '#808080', [], 5),
    curve(m.blue, '#87ceeb', [], 4),
    curve(m.orange, '#ff8c00', [], 3),
    curve(m.purple, '#800080', [], 2)
  ];
  if (m.patchy) ds.push(curve(m.patchy, '#000000', [15, 9], 1));
  makePanel(k, k, ds);
}

// 2D panels below the diagonal
Object.keys(pairs).forEach(key => {
  const [i, j] = key.split(',').map(Number);
  const set = pairs[key];
  const ds = [];
  let ord = 50;
  outerLayers.forEach(([k, f, l]) => ds.push(shape(set[k], f, l, 3, [], ord--)));
  innerLayers.forEach(([k, f]) => ds.push(shape(set[k], f, 'rgba(0,0,0,0)', 0, [], ord--)));
  if (set.pat95) {
    ds.push(shape(set.pat95, null, '#000000', 3, [11, 7], ord--));
    ds.push(shape(set.pat68, null, '#000000', 3, [11, 7], ord--));
  }
  makePanel(i, j, ds);
});
</script>
</body>
</html>
